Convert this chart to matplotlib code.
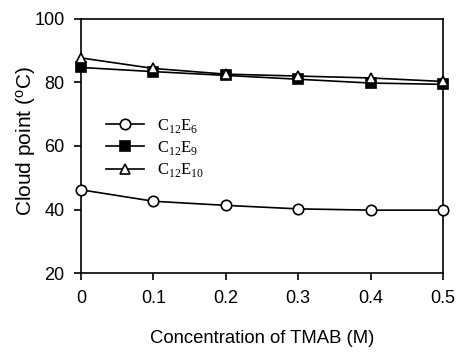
import matplotlib
matplotlib.use("Agg")
import matplotlib.pyplot as plt

# data
tmab = [0, 0.1, 0.2, 0.3, 0.4, 0.5]
c12e6 = [46.2, 42.6, 41.3, 40.2, 39.8, 39.8]
c12e9 = [84.7, 83.4, 82.2, 81.0, 79.8, 79.4]
c12e10 = [87.7, 84.4, 82.6, 82.0, 81.4, 80.3]
series_labels = [r"C$_{\mathrm{12}}$E$_{\mathrm{6}}$",
                 r"C$_{\mathrm{12}}$E$_{\mathrm{9}}$",
                 r"C$_{\mathrm{12}}$E$_{\mathrm{10}}$"]
xticks = [0, 0.1, 0.2, 0.3, 0.4, 0.5]
yticks = [20, 40, 60, 80, 100]

plt.rcParams["font.family"] = ["Liberation Sans", "DejaVu Sans"]
plt.rcParams["mathtext.fontset"] = "custom"
plt.rcParams["mathtext.rm"] = "Liberation Serif"
plt.rcParams["mathtext.sf"] = "Liberation Sans"

fig = plt.figure(figsize=(4.58, 3.56), dpi=100)
ax = fig.add_axes([0.177, 0.233, 0.790, 0.714])

kw = dict(color="black", lw=1.2, markersize=7.5, markeredgewidth=1.2, clip_on=False, zorder=3)
ax.plot(tmab, c12e6, marker="o", markerfacecolor="white", label=series_labels[0], **kw)
ax.plot(tmab, c12e9, marker="s", markerfacecolor="black", label=series_labels[1], **kw)
ax.plot(tmab, c12e10, marker="^", markerfacecolor="white", label=series_labels[2], **kw)

ax.set_xlim(0, 0.5)
ax.set_ylim(20, 100)
ax.set_xticks(xticks)
ax.set_xticklabels([f"{t:g}" for t in xticks])
ax.set_yticks(yticks)
ax.tick_params(direction="out", length=5, width=1.2, labelsize=13, pad=7)
for s in ax.spines.values():
    s.set_linewidth(1.2)

ax.set_xlabel("Concentration of TMAB (M)", fontsize=13.3, labelpad=17)
ax.set_ylabel(r"Cloud point ($\mathsf{^o}$C)", fontsize=15)
ax.yaxis.set_label_coords(-0.12, 0.52)

leg = ax.legend(loc="upper left", bbox_to_anchor=(0.05, 0.64), frameon=False,
                prop={"family": "Liberation Serif", "size": 12},
                handlelength=2.3, labelspacing=0.25, borderaxespad=0, handletextpad=0.8)

fig.savefig("out.png", dpi=100)
